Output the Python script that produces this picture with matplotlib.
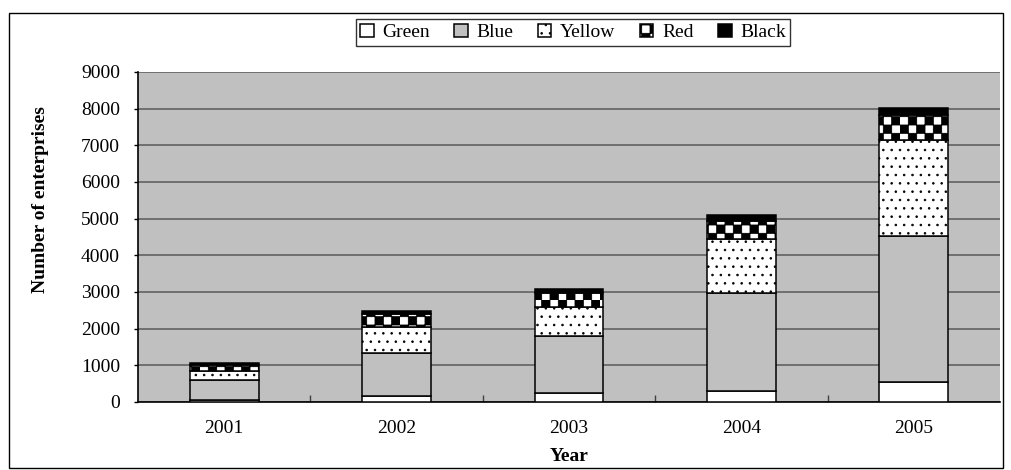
import matplotlib
matplotlib.use("Agg")
import matplotlib.pyplot as plt
import matplotlib.hatch as mhatch
from matplotlib.path import Path
from matplotlib.patches import Rectangle
import numpy as np

# ---- data ----
years = ["2001", "2002", "2003", "2004", "2005"]
green = [50, 170, 245, 310, 535]
blue = [550, 1175, 1555, 2665, 3990]
yellow = [245, 690, 780, 1465, 2620]
red = [165, 365, 380, 510, 680]
black = [45, 90, 110, 155, 180]
series_names = ["Green", "Blue", "Yellow", "Red", "Black"]
yticks = [0, 1000, 2000, 3000, 4000, 5000, 6000, 7000, 8000, 9000]


# ---- custom checkerboard hatch (replaces '*') ----
class CheckerHatch(mhatch.HatchPatternBase):
    def __init__(self, hatch, density):
        self.n = hatch.count('*') * density
        self.num_vertices = (self.n * self.n // 2) * 5 if self.n else 0

    def set_vertices_and_codes(self, vertices, codes):
        n = self.n
        s = 1.0 / n
        k = 0
        for i in range(n):
            for j in range(n):
                if (i + j) % 2 == 0:
                    x0, y0 = i * s, j * s
                    vertices[k:k + 5] = [[x0, y0], [x0 + s, y0], [x0 + s, y0 + s],
                                         [x0, y0 + s], [x0, y0]]
                    codes[k] = Path.MOVETO
                    codes[k + 1:k + 4] = Path.LINETO
                    codes[k + 4] = Path.CLOSEPOLY
                    k += 5


mhatch._hatch_types = [t for t in mhatch._hatch_types if t is not mhatch.Stars] + [CheckerHatch]

plt.rcParams['font.family'] = ['Liberation Serif', 'DejaVu Serif']
plt.rcParams['hatch.linewidth'] = 0.6

fig = plt.figure(figsize=(10.11, 4.70), dpi=100)
ax = fig.add_axes([138 / 1011, 1 - 402 / 470, (1000 - 138) / 1011, (402 - 72) / 470])
ax.set_facecolor('#c0c0c0')

x = np.arange(len(years))
w = 0.4
styles = [
    dict(color='white', hatch=None),
    dict(color='#c0c0c0', hatch=None),
    dict(color='white', hatch='..'),
    dict(color='white', hatch='**'),
    dict(color='black', hatch=None),
]
data = [green, blue, yellow, red, black]
bottom = np.zeros(len(years))
handles = []
for vals, st, name in zip(data, styles, series_names):
    b = ax.bar(x, vals, w, bottom=bottom, color=st['color'], hatch=st['hatch'],
               edgecolor='black', linewidth=1.1, label=name, zorder=3)
    handles.append(b)
    bottom += np.array(vals)

ax.set_xlim(-0.5, len(years) - 0.5)
ax.set_ylim(0, 9000)
ax.set_yticks(yticks)
ax.set_yticklabels([str(v) for v in yticks], fontsize=14)
ax.set_xticks(x)
ax.set_xticklabels(years, fontsize=14)
ax.tick_params(axis='x', length=0, pad=13)
ax.set_xticks(np.arange(len(years) - 1) + 0.5, minor=True)
ax.tick_params(axis='x', which='minor', direction='in', length=5, width=1, color='#404040')
ax.tick_params(axis='y', length=3, width=1, pad=10, direction='out')
ax.yaxis.grid(True, color='#5a5a5a', linewidth=1.1, zorder=0)
ax.set_axisbelow(True)
for s in ['top', 'right']:
    ax.spines[s].set_visible(False)
for s in ['left', 'bottom']:
    ax.spines[s].set_color('black')
    ax.spines[s].set_linewidth(1.2)

ax.set_xlabel("Year", fontsize=14, fontweight='bold', labelpad=8)
ax.set_ylabel("Number of enterprises", fontsize=14, fontweight='bold')
ax.yaxis.set_label_coords(-0.103, 0.612)

leg = fig.legend(handles=handles, labels=series_names, loc='center',
                 bbox_to_anchor=(573 / 1011, 1 - 32.5 / 470), ncol=5, fontsize=14,
                 frameon=True, fancybox=False, edgecolor='black',
                 handlelength=0.7, handleheight=0.7, handletextpad=0.45,
                 columnspacing=1.25, borderpad=0.22, borderaxespad=0)
leg.get_frame().set_linewidth(1.0)

# outer frame
fig.patches.append(Rectangle((9 / 1011, 2 / 470), (1003 - 9) / 1011, (457 - 2) / 470,
                             transform=fig.transFigure, fill=False,
                             edgecolor='black', linewidth=1.0))

fig.savefig("out.png", dpi=100)
